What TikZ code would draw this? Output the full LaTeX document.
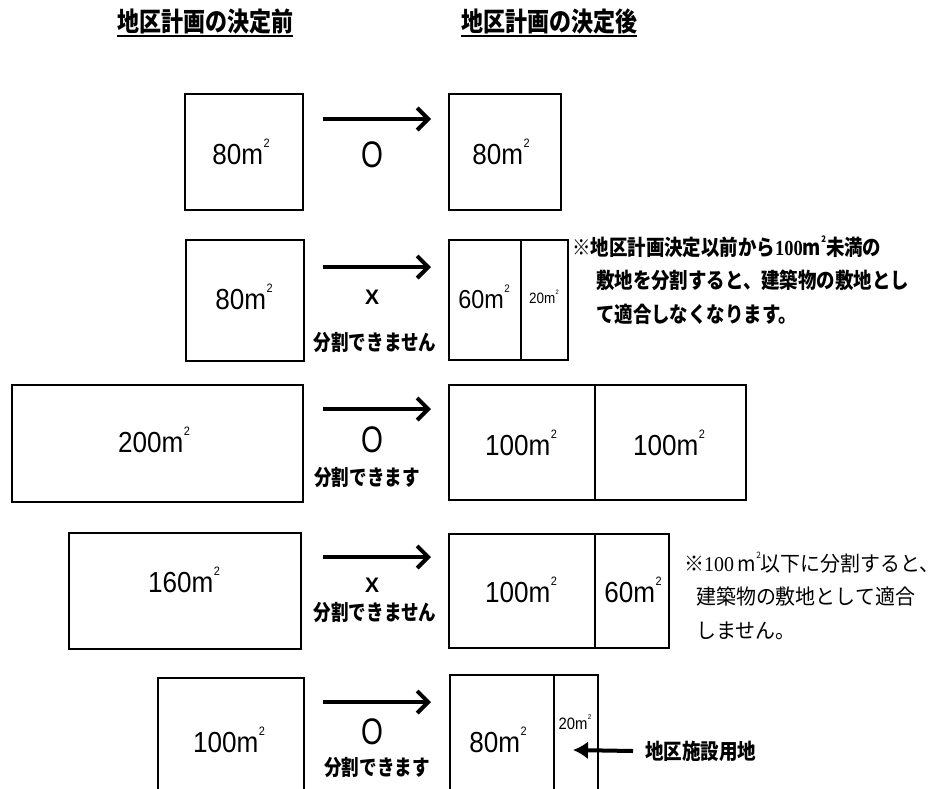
\documentclass[tikz,border=0pt]{standalone}
\usepackage{fontspec}
\setmainfont{Liberation Sans}
\newfontfamily\jp{Noto Sans CJK JP}
\newfontfamily\serifnum{Liberation Serif}
\usetikzlibrary{arrows.meta}
\newcommand{\sqm}{m\kern0.02em\raisebox{0.6em}{\scalebox{0.42}{2}}}
\newcommand{\nx}[1]{\scalebox{0.9}[1]{#1}}
\begin{document}
\begin{tikzpicture}[x=1pt,y=-1pt,
  box/.style={draw, line width=2.2pt, inner sep=0pt, anchor=north west},
  lbl/.style={inner sep=0pt, font=\fontsize{29}{29}\selectfont},
  lblm/.style={inner sep=0pt, font=\fontsize{26}{26}\selectfont},
  lbls/.style={inner sep=0pt, font=\fontsize{15}{15}\selectfont},
  okmark/.style={inner sep=0pt, font=\fontsize{37}{37}\selectfont},
  ngmark/.style={inner sep=0pt, font=\bfseries\fontsize{21}{21}\selectfont},
  jpl/.style={inner sep=0pt, font=\jp\bfseries\fontsize{19.5}{19.5}\selectfont},
  hdr/.style={inner sep=0pt, anchor=south, font=\jp\bfseries\fontsize{22}{22}\selectfont},
  arr/.style={line width=4pt, -{Straight Barb[length=11pt,width=22pt]}},
  larr/.style={line width=4pt, -{Latex[length=15pt,width=18pt]}},
  div/.style={line width=1.6pt}]
\useasboundingbox (0,0) rectangle (952,788);
\clip (0,0) rectangle (952,788);
\fill[white] (0,0) rectangle (952,788);

% headers
\node[hdr] (h1) at (205,34) {\scalebox{1}[1.2]{地区計画の決定前}};
\node[hdr] (h2) at (549,34) {\scalebox{1}[1.2]{地区計画の決定後}};
\draw[line width=2.5pt] ([yshift=-2pt]h1.south west) -- ([yshift=-2pt]h1.south east);
\draw[line width=2.5pt] ([yshift=-2pt]h2.south west) -- ([yshift=-2pt]h2.south east);

% row 1
\node[box, minimum width=118pt, minimum height=116pt] (L1) at (184,93) {};
\node[box, minimum width=112pt, minimum height=116pt] (R1) at (448,93) {};
\node[lbl] (t1a) at (241,152) {\nx{80\sqm}};
\node[lbl] (t1b) at (501,152) {\nx{80\sqm}};
\coordinate (a1s) at (323,119); \coordinate (a1e) at (431,119);
\draw[arr] (a1s) -- (a1e);
\node[okmark] (m1) at (372,155) {\scalebox{0.76}[1]{O}};

% row 2
\node[box, minimum width=118pt, minimum height=121pt] (L2) at (185,239) {};
\node[box, minimum width=119pt, minimum height=120pt] (R2) at (448,239) {};
\draw[div] (521,239) -- (521,359);
\node[lbl] (t2a) at (244,297) {\nx{80\sqm}};
\node[lblm] (t2b) at (484,297) {\nx{60\sqm}};
\node[lbls] (t2c) at (544,297) {\nx{20\sqm}};
\coordinate (a2s) at (323,267); \coordinate (a2e) at (431,267);
\draw[arr] (a2s) -- (a2e);
\node[ngmark] (m2) at (372,297) {X};
\node[jpl] (c2) at (375,343) {\scalebox{0.9}[1.1]{分割できません}};
\node[inner sep=0pt, anchor=west, align=left, font=\jp\bfseries\fontsize{20.5}{32}\selectfont] (n1) at (572,282)
 {\scalebox{0.9}[1.05]{\begin{tabular}{@{}l@{}}※地区計画決定以前から{\serifnum\bfseries 100}\sqm 未満の\\
 \hspace*{1.3em}敷地を分割すると、建築物の敷地とし\\
 \hspace*{1.3em}て適合しなくなります。\end{tabular}}};

% row 3
\node[box, minimum width=291pt, minimum height=117pt] (L3) at (11,384) {};
\node[box, minimum width=297pt, minimum height=115pt] (R3) at (448,384) {};
\draw[div] (595,384) -- (595,499);
\node[lbl] (t3a) at (154,440) {\nx{200\sqm}};
\node[lbl] (t3b) at (521,443) {\nx{100\sqm}};
\node[lbl] (t3c) at (669,443) {\nx{100\sqm}};
\coordinate (a3s) at (323,409); \coordinate (a3e) at (431,409);
\draw[arr] (a3s) -- (a3e);
\node[okmark] (m3) at (372,440) {\scalebox{0.76}[1]{O}};
\node[jpl] (c3) at (367,477) {\scalebox{0.9}[1.1]{分割できます}};

% row 4
\node[box, minimum width=232pt, minimum height=116pt] (L4) at (68,532) {};
\node[box, minimum width=220pt, minimum height=114pt] (R4) at (448,533) {};
\draw[div] (595,533) -- (595,647);
\node[lbl] (t4a) at (184,580) {\nx{160\sqm}};
\node[lbl] (t4b) at (521,590) {\nx{100\sqm}};
\node[lbl] (t4c) at (633,590) {\nx{60\sqm}};
\coordinate (a4s) at (323,557); \coordinate (a4e) at (431,557);
\draw[arr] (a4s) -- (a4e);
\node[ngmark] (m4) at (372,585) {X};
\node[jpl] (c4) at (375,612) {\scalebox{0.9}[1.1]{分割できません}};
\node[inner sep=0pt, anchor=west, align=left, font=\jp\fontsize{21}{33.5}\selectfont] (n2) at (684,598)
 {\scalebox{0.95}[1]{\begin{tabular}{@{}l@{}}※{\serifnum 100}\,\sqm 以下に分割すると、\\
 \hspace*{0.6em}建築物の敷地として適合\\
 \hspace*{0.6em}しません。\end{tabular}}};

% row 5
\node[box, minimum width=146pt, minimum height=130pt] (L5) at (157,677) {};
\node[box, minimum width=148pt, minimum height=130pt] (R5) at (449,674) {};
\draw[div] (554,674) -- (554,800);
\node[lbl] (t5a) at (229,740) {\nx{100\sqm}};
\node[lbl] (t5b) at (498,740) {\nx{80\sqm}};
\node[lbls, font=\fontsize{16.5}{16.5}\selectfont] (t5c) at (575,722) {\nx{20\sqm}};
\coordinate (a5s) at (323,702); \coordinate (a5e) at (431,702);
\draw[arr] (a5s) -- (a5e);
\node[okmark] (m5) at (372,732) {\scalebox{0.76}[1]{O}};
\node[jpl] (c5) at (377,767) {\scalebox{0.9}[1.1]{分割できます}};
\node[jpl, anchor=west] (fac) at (645,751) {\scalebox{0.95}[1.1]{地区施設用地}};
\coordinate (ptr) at (573,750);
\draw[larr] ([xshift=-12pt]fac.west) -- (ptr);
\end{tikzpicture}
\end{document}
